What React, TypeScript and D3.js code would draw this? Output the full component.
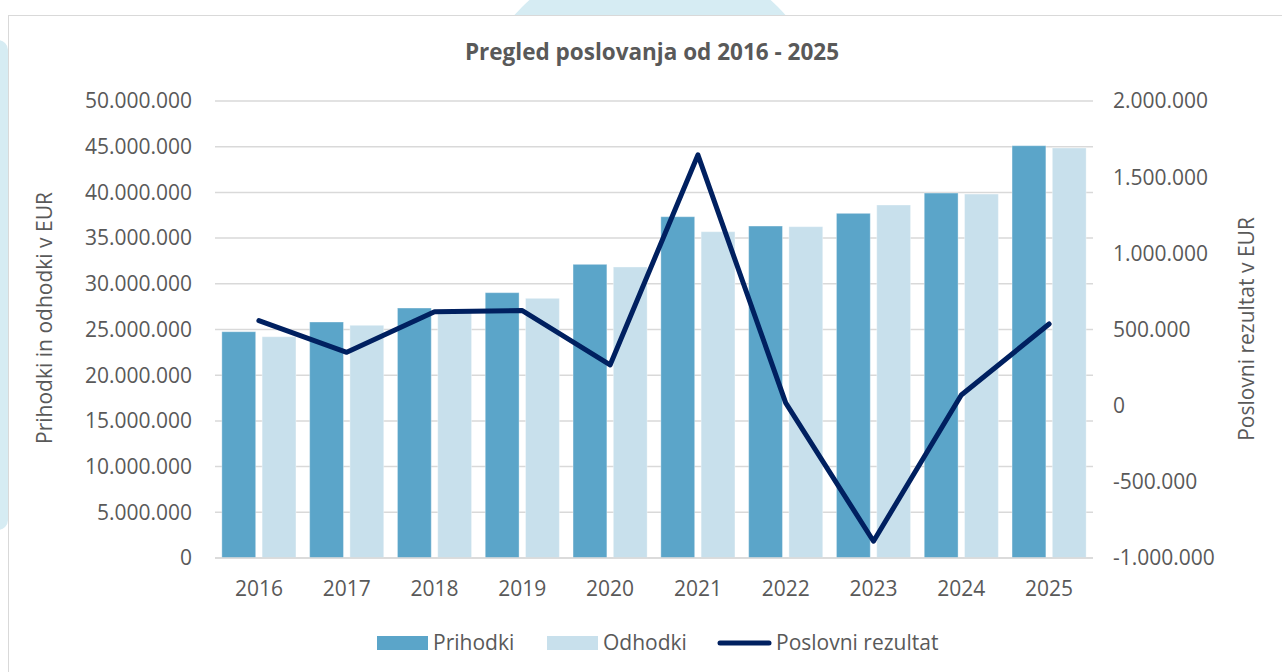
import React from 'react';
import * as d3 from 'd3';

const years = ['2016', '2017', '2018', '2019', '2020', '2021', '2022', '2023', '2024', '2025'];
const prihodki = [24760000, 25820000, 27350000, 29030000, 32130000, 37340000, 36320000, 37710000, 39930000, 45110000];
const odhodki = [24210000, 25460000, 26900000, 28410000, 31840000, 35700000, 36250000, 38620000, 39820000, 44860000];
const rezultat = [558000, 350000, 617000, 624000, 267000, 1646000, 18000, -890000, 70000, 536000];
const leftTicks = [0, 5000000, 10000000, 15000000, 20000000, 25000000, 30000000, 35000000, 40000000, 45000000, 50000000];
const rightTicks = [-1000000, -500000, 0, 500000, 1000000, 1500000, 2000000];
const seriesNames = ['Prihodki', 'Odhodki'];

const W = 1282;
const H = 672;
const FONT = "'Open Sans', sans-serif";
const TEXT = '#595959';
const GRID = '#d9d9d9';
const C_PRI = '#5ba5c9';
const C_ODH = '#c8e0ec';
const C_LINE = '#002060';
const FS = 21;

// numbers like 45.000.000
const fmt = (v: number) => {
  const s = Math.abs(v).toString().replace(/\B(?=(\d{3})+(?!\d))/g, '.');
  return v < 0 ? '-' + s : s;
};

export default function App() {
  const plot = { left: 215, right: 1093, top: 101, bottom: 558 };

  const x = d3.scaleBand<string>().domain(years).range([plot.left, plot.right]).padding(0);
  const xInner = d3.scaleBand<string>()
    .domain(seriesNames)
    .range([0, x.bandwidth()])
    .paddingInner(0.16)
    .paddingOuter(0.17);
  const yL = d3.scaleLinear().domain([0, 50000000]).range([plot.bottom, plot.top]);
  const yR = d3.scaleLinear().domain([-1000000, 2000000]).range([plot.bottom, plot.top]);

  const line = d3.line<number>()
    .x((_, i) => (x(years[i]) as number) + x.bandwidth() / 2)
    .y(d => yR(d));

  const barData = [prihodki, odhodki];
  const barColors = [C_PRI, C_ODH];

  return (
    <svg width={W} height={H} style={{ position: 'absolute', left: 0, top: 0 }}>
      {/* decorative background */}
      <rect x={0} y={0} width={W} height={H} fill="#ffffff" />
      <circle cx={650} cy={135} r={181} fill="#d6ecf3" />
      <rect x={-20} y={40} width={28} height={490} rx={10} fill="#d6ecf3" />
      <rect x={8.5} y={15.5} width={W + 20} height={H + 20} fill="#ffffff" stroke={GRID} strokeWidth={1} />

      <text x={652} y={60} textAnchor="middle" fontFamily={FONT} fontWeight={700} fontSize={22.5} fill={TEXT}>
        Pregled poslovanja od 2016 - 2025
      </text>

      {/* gridlines */}
      {leftTicks.map(t => (
        <line key={t} x1={plot.left} x2={plot.right} y1={yL(t)} y2={yL(t)} stroke={GRID} strokeWidth={1.5} />
      ))}

      {/* bars */}
      {years.map((yr, i) => (
        <g key={yr} transform={`translate(${x(yr)},0)`}>
          {seriesNames.map((s, k) => (
            <rect
              key={s}
              x={xInner(s)}
              y={yL(barData[k][i])}
              width={xInner.bandwidth()}
              height={yL(0) - yL(barData[k][i])}
              fill={barColors[k]}
              stroke="#ffffff"
              strokeOpacity={0.35}
              strokeWidth={1}
            />
          ))}
        </g>
      ))}

      <line x1={plot.left} x2={plot.right} y1={yL(0)} y2={yL(0)} stroke={GRID} strokeWidth={1.5} />

      {/* result line */}
      <path d={line(rezultat) || ''} fill="none" stroke={C_LINE} strokeWidth={5} strokeLinejoin="round" strokeLinecap="round" />

      {/* left axis */}
      {leftTicks.map(t => (
        <text key={t} x={192} y={yL(t)} dy="0.35em" textAnchor="end" fontFamily={FONT} fontSize={FS} fill={TEXT}>
          {fmt(t)}
        </text>
      ))}
      {/* right axis */}
      {rightTicks.map(t => (
        <text key={t} x={1113} y={yR(t)} dy="0.35em" textAnchor="start" fontFamily={FONT} fontSize={FS} fill={TEXT}>
          {fmt(t)}
        </text>
      ))}
      {/* x labels */}
      {years.map(yr => (
        <text key={yr} x={(x(yr) as number) + x.bandwidth() / 2} y={589} dy="0.35em" textAnchor="middle" fontFamily={FONT} fontSize={FS} fill={TEXT}>
          {yr}
        </text>
      ))}

      {/* axis titles */}
      <text transform="translate(52,318) rotate(-90)" textAnchor="middle" fontFamily={FONT} fontSize={FS} fill={TEXT}>
        Prihodki in odhodki v EUR
      </text>
      <text transform="translate(1254,329) rotate(-90)" textAnchor="middle" fontFamily={FONT} fontSize={FS} fill={TEXT}>
        Poslovni rezultat v EUR
      </text>

      {/* legend */}
      <g fontFamily={FONT} fontSize={FS} fill={TEXT}>
        <rect x={377} y={636} width={51} height={14} fill={C_PRI} />
        <text x={433} y={643} dy="0.35em">Prihodki</text>
        <rect x={547} y={636} width={51} height={14} fill={C_ODH} />
        <text x={603} y={643} dy="0.35em">Odhodki</text>
        <line x1={720} x2={769} y1={643} y2={643} stroke={C_LINE} strokeWidth={5} strokeLinecap="round" />
        <text x={776} y={643} dy="0.35em">Poslovni rezultat</text>
      </g>
    </svg>
  );
}
